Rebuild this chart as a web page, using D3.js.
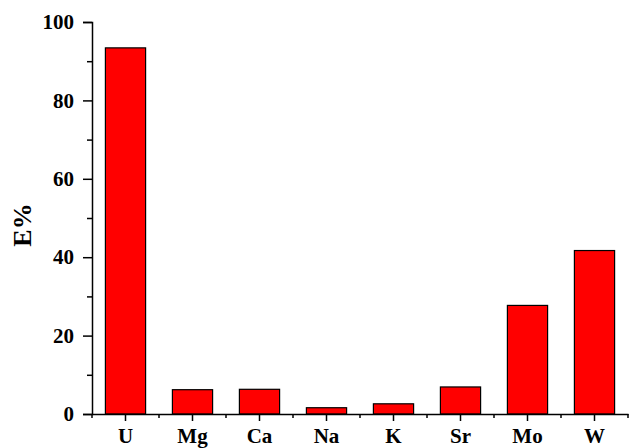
<!DOCTYPE html>
<html>
<head>
<meta charset="utf-8">
<script src="https://cdn.jsdelivr.net/npm/d3@7"></script>
<style>
  body { margin: 0; background: #fff; }
  svg text { font-family: "Liberation Serif", "Times New Roman", serif; font-weight: bold; fill: #000; }
</style>
</head>
<body>
<div id="chart"></div>
<script>
// element labels and extraction percentages
const elements = ['U', 'Mg', 'Ca', 'Na', 'K', 'Sr', 'Mo', 'W'];
const extraction = [93.4, 6.2, 6.3, 1.6, 2.6, 6.9, 27.7, 41.7];
const yTicks = [0, 20, 40, 60, 80, 100];
const yMinorTicks = [10, 30, 50, 70, 90];

const W = 629, H = 448;
const plotLeft = 92, plotRight = 628, plotTop = 22, plotBottom = 414;

const svg = d3.select('#chart').append('svg')
    .attr('width', W)
    .attr('height', H);

const x = d3.scaleBand().domain(elements).range([plotLeft, plotRight]).paddingInner(0.4).paddingOuter(0.2);
const y = d3.scaleLinear().domain([0, 100]).range([plotBottom, plotTop]);

// bars
svg.append('g').selectAll('rect')
    .data(elements)
    .enter()
    .append('rect')
    .attr('x', d => x(d))
    .attr('y', (d, i) => y(extraction[i]))
    .attr('width', x.bandwidth())
    .attr('height', (d, i) => y(0) - y(extraction[i]))
    .attr('fill', '#ff0000')
    .attr('stroke', '#000')
    .attr('stroke-width', 1.2);

// y axis
const yAxis = svg.append('g').attr('transform', `translate(${plotLeft},0)`)
    .call(d3.axisLeft(y).tickValues(yTicks).tickSize(9).tickPadding(9));
yAxis.append('g').call(d3.axisLeft(y).tickValues(yMinorTicks).tickSize(5).tickFormat(''))
    .select('.domain').remove();

// x axis
const step = x.step();
const xAxis = svg.append('g').attr('transform', `translate(0,${plotBottom})`)
    .call(d3.axisBottom(x).tickSize(7).tickPadding(7).tickSizeOuter(0));
const boundaries = d3.range(0, elements.length + 1).map(i => plotLeft + i * step);
xAxis.selectAll('line.minor')
    .data(boundaries)
    .enter()
    .append('line')
    .attr('class', 'minor')
    .attr('x1', d => d).attr('x2', d => d)
    .attr('y1', 0).attr('y2', 4)
    .attr('stroke', '#000')
    .attr('stroke-width', 1.5);

svg.selectAll('.domain').attr('stroke-width', 1.5);
svg.selectAll('.tick line').attr('stroke-width', 1.5);
svg.selectAll('.tick text').style('font-size', '21px');

// y title
svg.append('text')
    .attr('transform', `translate(31,225) rotate(-90)`)
    .attr('text-anchor', 'middle')
    .style('font-size', '26px')
    .text('E%');
</script>
</body>
</html>
